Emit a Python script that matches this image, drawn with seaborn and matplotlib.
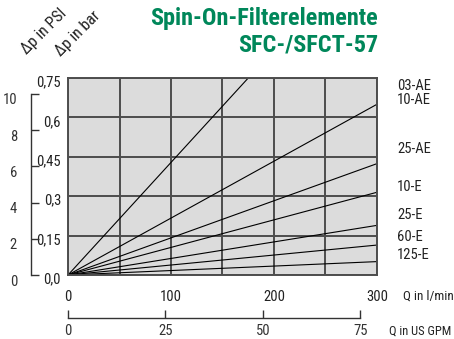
import matplotlib
matplotlib.use("Agg")
import pandas as pd
import matplotlib.pyplot as plt
import matplotlib.transforms as mtransforms
from matplotlib import font_manager
import seaborn as sns

# filter curves: pressure drop (bar) at the end point of each straight line
elements = ["03-AE", "10-AE", "25-AE", "10-E", "25-E", "60-E", "125-E"]
q_end = [175, 300, 300, 300, 300, 300, 300]          # l/min
dp_end = [0.75, 0.65, 0.424, 0.315, 0.189, 0.114, 0.051]  # bar
label_y = [0.72, 0.665, 0.48, 0.335, 0.23, 0.145, 0.077]  # label positions (bar)

bar_ticks = [0.0, 0.15, 0.3, 0.45, 0.6, 0.75]
bar_labels = ["0,0", "0,15", "0,3", "0,45", "0,6", "0,75"]
psi_ticks = [0, 2, 4, 6, 8, 10]
lmin_ticks = [0, 100, 200, 300]
gpm_ticks = [0, 25, 50, 75]

BAR_TO_PSI = 14.5038
GPM_TO_LMIN = 3.78541

rows = []
for name, q, dp in zip(elements, q_end, dp_end):
    rows.append({"element": name, "Q": 0.0, "dp": 0.0})
    rows.append({"element": name, "Q": q, "dp": dp})
df = pd.DataFrame(rows)

installed = {f.name for f in font_manager.fontManager.ttflist}
families = [f for f in ["Liberation Sans Narrow", "DejaVu Sans Condensed", "Roboto Condensed",
                        "Roboto", "DejaVu Sans"] if f in installed]

sns.set_style("white")
plt.rcParams["font.family"] = families + ["DejaVu Sans"]
txt = "#222222"
green = "#00875a"

fig = plt.figure(figsize=(4.54, 3.39), dpi=100)
W, H = 454, 339
left, right, top, bottom = 68, 377, 78, 275
ax = fig.add_axes([left / W, 1 - bottom / H, (right - left) / W, (bottom - top) / H])
ax.set_facecolor("#dcdcdc")

sns.lineplot(data=df, x="Q", y="dp", hue="element", palette=["black"] * len(elements),
             legend=False, linewidth=0.8, ax=ax, estimator=None)

ax.set_xlim(0, 300)
ax.set_ylim(0, 0.75)
ax.set_xticks([0, 50, 100, 150, 200, 250, 300])
ax.set_xticklabels(["0", "", "100", "", "200", "", "300"])
ax.set_yticks(bar_ticks)
ax.set_yticklabels(bar_labels)
ax.tick_params(axis="both", length=0, colors=txt, labelsize=10.5)
ax.tick_params(axis="x", pad=11)
ax.tick_params(axis="y", pad=5)
ax.grid(True, color="#4d4d4d", linewidth=1.4)
ax.set_axisbelow(True)
for s in ax.spines.values():
    s.set_color("#4d4d4d")
    s.set_linewidth(1.4)
ax.set_xlabel("")
ax.set_ylabel("")
off = mtransforms.ScaledTranslation(0, -3 / 100, fig.dpi_scale_trans)
for lab in ax.get_yticklabels():
    lab.set_transform(lab.get_transform() + off)

for name, y in zip(elements, label_y):
    ax.text(1.065, y, name, transform=ax.get_yaxis_transform(), fontsize=10.5,
            color=txt, va="center", ha="left")
ax.text(1.085, -0.105, "Q in l/min", transform=ax.transAxes, fontsize=9.5,
        color=txt, va="center", ha="left")

# PSI axis
psi_x = 31
ax_psi = fig.add_axes([psi_x / W, 1 - bottom / H, 0.001, (bottom - top) / H])
ax_psi.set_ylim(0, 0.75 * BAR_TO_PSI)
ax_psi.set_xticks([])
ax_psi.set_yticks(psi_ticks)
ax_psi.patch.set_visible(False)
for k in ["top", "right", "bottom"]:
    ax_psi.spines[k].set_visible(False)
ax_psi.spines["left"].set_bounds(0, 10)
ax_psi.spines["left"].set_color("#333333")
ax_psi.spines["left"].set_linewidth(1.0)
ax_psi.tick_params(axis="y", left=True, direction="in", length=6, width=1.0, pad=10,
                   colors="#333333", labelsize=10.5)
off2 = mtransforms.ScaledTranslation(0, -5 / 100, fig.dpi_scale_trans)
for lab in ax_psi.get_yticklabels():
    lab.set_transform(lab.get_transform() + off2)

# GPM axis
gpm_y = 318
ax_gpm = fig.add_axes([left / W, 1 - gpm_y / H, (right - left) / W, 0.001])
ax_gpm.set_xlim(0, 300 / GPM_TO_LMIN)
ax_gpm.set_yticks([])
ax_gpm.set_xticks(gpm_ticks)
ax_gpm.patch.set_visible(False)
for k in ["top", "right", "left"]:
    ax_gpm.spines[k].set_visible(False)
ax_gpm.spines["bottom"].set_bounds(0, 75)
ax_gpm.spines["bottom"].set_color("#333333")
ax_gpm.spines["bottom"].set_linewidth(1.0)
ax_gpm.tick_params(axis="x", bottom=True, direction="in", length=6, width=1.0, pad=4,
                   colors="#333333", labelsize=10.5)
ax_gpm.text(389 / W, 1 - 331 / H, "Q in US GPM", transform=fig.transFigure,
            fontsize=9, color=txt, va="center", ha="left")

# rotated axis titles
fig.text(29 / W, 1 - 57 / H, "Δp in PSI", rotation=45, fontsize=11.5, color=txt,
         ha="left", va="bottom", rotation_mode="anchor")
fig.text(63 / W, 1 - 59 / H, "Δp in bar", rotation=45, fontsize=11.5, color=txt,
         ha="left", va="bottom", rotation_mode="anchor")

# title
fig.text(378 / W, 1 - 18 / H, "Spin-On-Filterelemente", fontsize=17.5, fontweight="bold",
         color=green, ha="right", va="center")
fig.text(378 / W, 1 - 45 / H, "SFC-/SFCT-57", fontsize=17.5, fontweight="bold",
         color=green, ha="right", va="center")

fig.savefig("out.png", dpi=100)
